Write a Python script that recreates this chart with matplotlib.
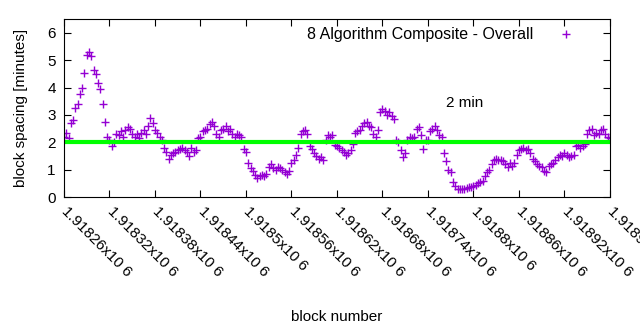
import numpy as np
import matplotlib
matplotlib.use('Agg')
import matplotlib.pyplot as plt

plt.rcParams['font.family'] = ['Liberation Sans', 'DejaVu Sans']

# block spacing in minutes, one reading every 3 blocks
block_start = 1918260
block_step = 3
spacing = [
    2.2, 2.35, 2.15, 2.7, 2.8, 3.25, 3.4, 3.75, 4.0, 4.55,
    5.2, 5.3, 5.15, 4.65, 4.5, 4.15, 3.95, 3.4, 2.75, 2.2,
    2.1, 1.85, 2.0, 2.3, 2.25, 2.4, 2.2, 2.45, 2.55, 2.5,
    2.3, 2.2, 2.3, 2.15, 2.35, 2.45, 2.3, 2.6, 2.9, 2.7,
    2.45, 2.35, 2.2, 2.1, 1.8, 1.65, 1.4, 1.55, 1.6, 1.65,
    1.7, 1.75, 1.8, 1.7, 1.65, 1.5, 1.8, 1.65, 1.7, 2.15,
    2.2, 2.4, 2.45, 2.5, 2.65, 2.75, 2.6, 2.3, 2.2, 2.45,
    2.5, 2.6, 2.4, 2.5, 2.3, 2.2, 2.3, 2.25, 2.2, 1.75,
    1.65, 1.25, 1.05, 0.95, 0.8, 0.7, 0.75, 0.8, 0.75, 0.85,
    1.1, 1.2, 1.05, 1.0, 1.1, 1.05, 1.0, 0.9, 0.85, 0.95,
    1.25, 1.35, 1.55, 1.8, 2.3, 2.4, 2.45, 2.3, 1.85, 1.75,
    1.6, 1.5, 1.4, 1.45, 1.35, 2.1, 2.25, 2.2, 2.25, 1.9,
    1.85, 1.8, 1.7, 1.65, 1.55, 1.6, 1.7, 1.95, 2.35, 2.4,
    2.45, 2.6, 2.7, 2.75, 2.6, 2.55, 2.3, 2.2, 2.45, 3.1,
    3.2, 3.15, 3.0, 3.1, 2.95, 2.85, 2.1, 2.0, 1.7, 1.45,
    1.6, 2.1, 2.2, 2.15, 2.2, 2.5, 2.55, 2.25, 1.75, 2.1,
    2.1, 2.4, 2.5, 2.6, 2.45, 2.25, 2.2, 1.6, 1.3, 1.0,
    0.9, 0.55, 0.4, 0.3, 0.3, 0.28, 0.3, 0.32, 0.35, 0.38,
    0.42, 0.45, 0.5, 0.55, 0.6, 0.75, 0.9, 1.0, 1.2, 1.35,
    1.4, 1.35, 1.35, 1.3, 1.2, 1.1, 1.25, 1.15, 1.25, 1.55,
    1.7, 1.75, 1.8, 1.7, 1.75, 1.6, 1.4, 1.3, 1.2, 1.15,
    1.1, 0.95, 0.9, 1.15, 1.2, 1.25, 1.35, 1.45, 1.55, 1.5,
    1.6, 1.55, 1.45, 1.5, 1.55, 1.85, 1.9, 1.8, 1.85, 1.95,
    2.3, 2.45, 2.5, 2.25, 2.35, 2.3, 2.45, 2.5, 2.3, 2.2,
    2.15,
]
target = 2
xticks = [1918260, 1918320, 1918380, 1918440, 1918500, 1918560, 1918620,
          1918680, 1918740, 1918800, 1918860, 1918920, 1918980]
yticks = [0, 1, 2, 3, 4, 5, 6]

blocks = block_start + block_step * np.arange(len(spacing))

fig = plt.figure(figsize=(6.4, 3.3), dpi=100)
ax = fig.add_axes([0.1, 0.403, 0.853, 0.539])

ax.plot(blocks, spacing, '+', color='#9400d3', ms=6, mew=1,
        label='8 Algorithm Composite - Overall')
ax.axhline(target, color='#00ff00', lw=3)
ax.text(1918764, 3.45, '2 min', fontsize=11, va='center')

ax.set_xlim(xticks[0], xticks[-1])
ax.set_ylim(0, 6.5)
ax.set_yticks(yticks)
ax.set_xticks(xticks)
ax.set_xticklabels(['%gx10 6' % (t / 1e6) for t in xticks],
                   rotation=-45, ha='left', va='center', rotation_mode='anchor')
ax.tick_params(direction='in', top=True, right=True, length=5, labelsize=11)
ax.tick_params(axis='x', pad=9)
ax.tick_params(axis='y', pad=6)

ax.set_xlabel('block number', fontsize=11, labelpad=22)
ax.set_ylabel('block spacing [minutes]', fontsize=11, labelpad=14)

ax.legend(loc='upper right', bbox_to_anchor=(0.982, 1.035), frameon=False,
          markerfirst=False, fontsize=11.5, handlelength=2.5)

fig.savefig('out.png', dpi=100)
